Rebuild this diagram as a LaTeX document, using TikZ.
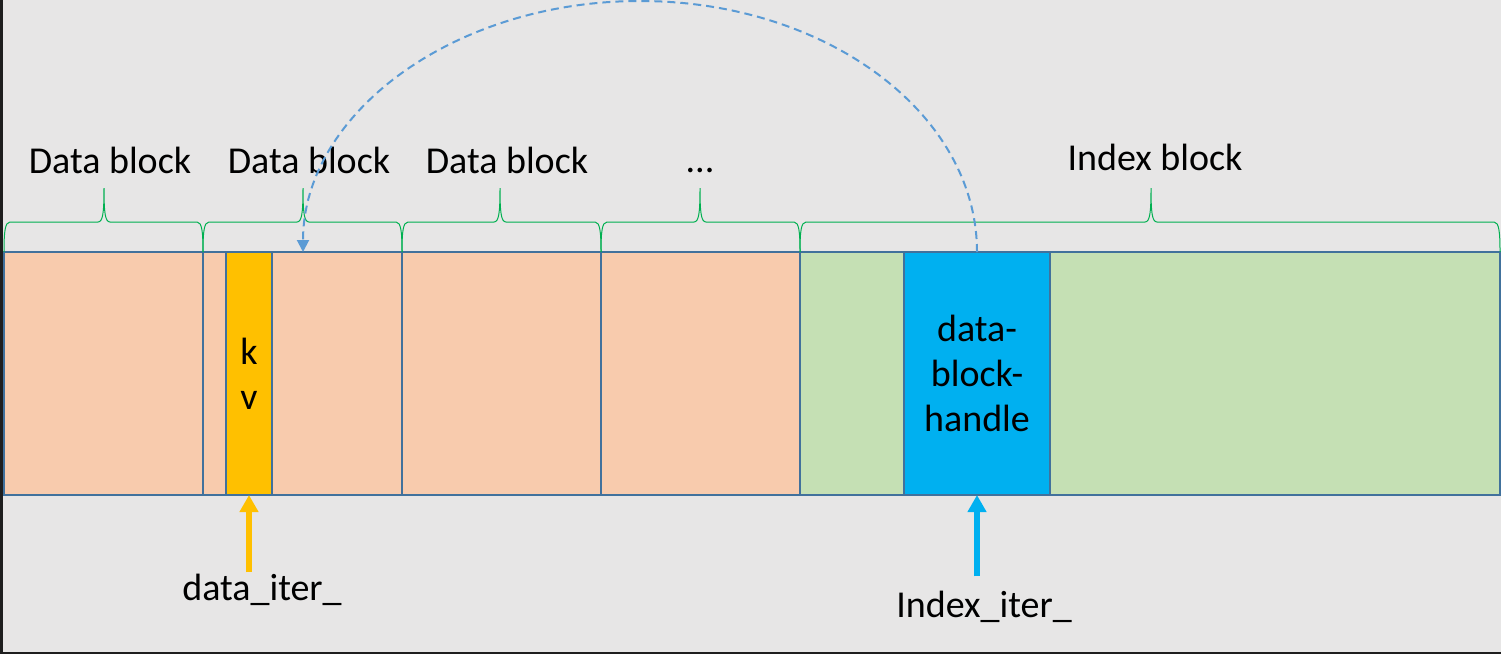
\documentclass[tikz,border=0pt]{standalone}
\usepackage{fontspec}
\setmainfont{Carlito}
\usepackage{tikz}
\usetikzlibrary{arrows.meta, positioning}
\definecolor{bgcolor}{HTML}{E7E6E6}
\definecolor{framecolor}{HTML}{1E1E1E}
\definecolor{datafill}{HTML}{F8CBAD}
\definecolor{indexfill}{HTML}{C5E0B4}
\definecolor{kvfill}{HTML}{FFC000}
\definecolor{handlefill}{HTML}{00B0F0}
\definecolor{segline}{HTML}{41719C}
\definecolor{bracecolor}{HTML}{00B050}
\definecolor{linkcolor}{HTML}{5B9BD5}
\tikzset{
	every node/.append style={
		font=\fontsize{38}{45}\selectfont,
	},
	seg/.append style={
		draw=segline,
		line width=2pt,
		minimum height=243pt,
		inner sep=0pt,
		outer sep=0pt,
		align=center,
	},
	blocklabel/.append style={
		anchor=base,
		inner sep=1pt,
	},
	curly/.append style={
		draw=bracecolor,
		line width=1pt,
	},
	iter/.append style={
		line width=6pt,
		-{Triangle[width=18pt,length=17pt]},
	},
	link/.append style={
		draw=linkcolor,
		line width=2pt,
		dash pattern=on 8pt off 5pt,
		-{Triangle[width=12pt,length=12pt]},
	}
}

\begin{document}
\begin{tikzpicture}[x=1pt,y=-1pt]
\useasboundingbox (0,0) rectangle (1501,654);
\fill[bgcolor] (0,0) rectangle (1501,654);
\fill[framecolor] (0,0) rectangle (3,654);
\fill[framecolor] (0,652) rectangle (1501,654);

% the file: data blocks, then the index block
\node[seg, fill=datafill, minimum width=199pt] (d1) at (103.5,373.5) {};
\node[seg, fill=datafill, minimum width=199pt] (d2) at (302.5,373.5) {};
\node[seg, fill=kvfill, minimum width=46pt] (kv) at (249,373.5) {k\\v};
\node[seg, fill=datafill, minimum width=199pt] (d3) at (501.5,373.5) {};
\node[seg, fill=datafill, minimum width=199pt] (d4) at (700.5,373.5) {};
\node[seg, fill=indexfill, minimum width=700pt] (ix) at (1150,373.5) {};
\node[seg, fill=handlefill, minimum width=146pt] (hdl) at (977,373.5) {data-\\block-\\handle};

% braces
\foreach \a/\m/\b in {4/104/203, 203/303/402, 402/500/601, 601/700/800, 800/1151/1500}{
	\draw[curly] (\a,252) .. controls (\a,232) and (\a+1,222) .. (\a+6,222) -- (\m-6,222)
		.. controls (\m-1,222) and (\m,212) .. (\m,188)
		.. controls (\m,212) and (\m+1,222) .. (\m+6,222) -- (\b-6,222)
		.. controls (\b-1,222) and (\b,232) .. (\b,252);
}

\node[blocklabel] (l1) at (110,173) {Data block};
\node[blocklabel] (l2) at (309,173) {Data block};
\node[blocklabel] (l3) at (507,173) {Data block};
\node[blocklabel] (l4) at (700,172) {...};
\node[blocklabel] (l5) at (1155,170) {Index block};

% iterators
\node[blocklabel] (dit) at (262,600) {data\_iter\_};
\node[blocklabel] (iit) at (984,617) {Index\_iter\_};
\draw[iter, kvfill] (kv.south |- dit.north) -- (kv.south);
\draw[iter, handlefill, shorten <=13pt] (hdl.south |- iit.north) -- (hdl.south);

% handle points back to its data block
\draw[link] (hdl.north) arc[start angle=0, end angle=180, x radius=337pt, y radius=251pt];
\end{tikzpicture}
\end{document}
